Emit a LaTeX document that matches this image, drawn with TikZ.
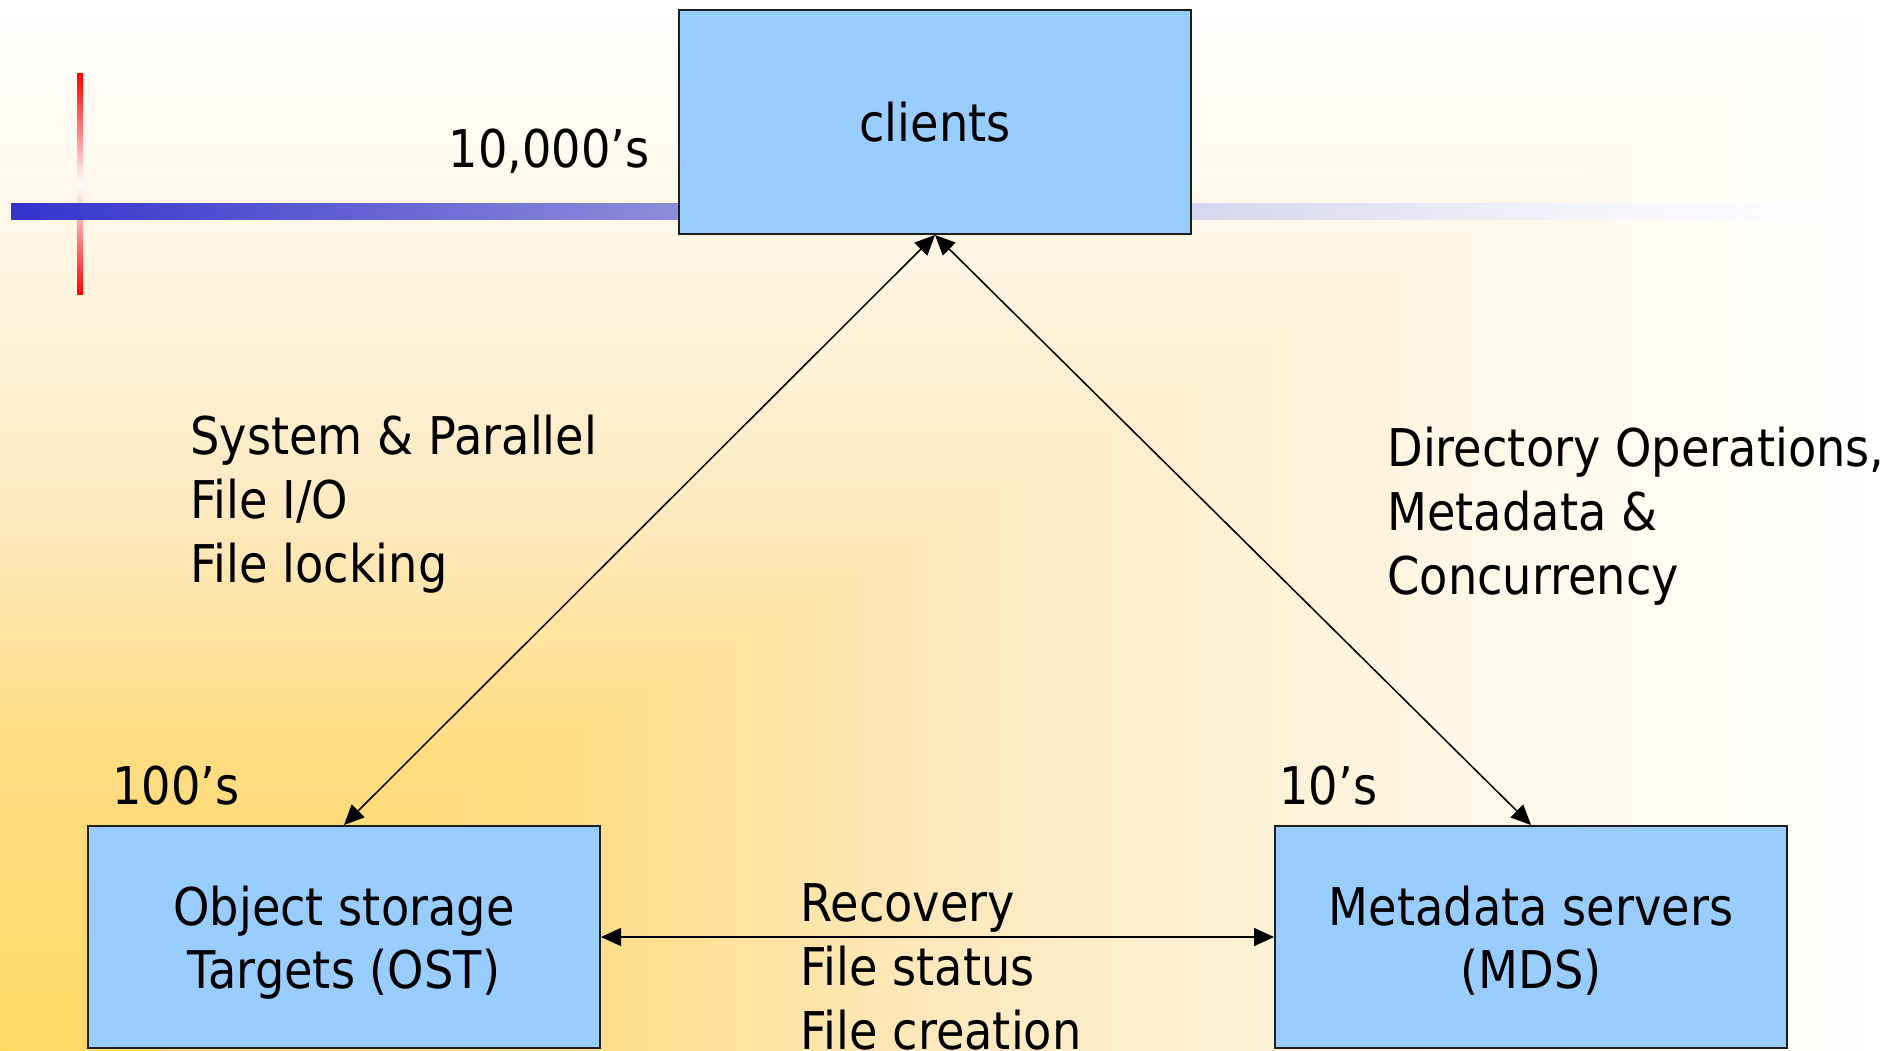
\documentclass[tikz,border=0pt]{standalone}
\usepackage{fontspec}
\setmainfont{DejaVu Sans}[FakeStretch=0.89]
\usetikzlibrary{arrows.meta}

\definecolor{boxblue}{RGB}{153,204,255}
\definecolor{boxline}{RGB}{30,30,30}
% background ramp, gold to white
\definecolor{bgA}{RGB}{255,216,100}
\definecolor{bgB}{RGB}{254,221,132}
\definecolor{bgC}{RGB}{254,233,190}
\definecolor{bgD}{RGB}{254,241,214}
\definecolor{bgE}{RGB}{255,250,240}
% blue rule ramp
\definecolor{barA}{RGB}{51,51,204}
\definecolor{barB}{RGB}{137,137,218}
\definecolor{barC}{RGB}{213,213,238}
\definecolor{barD}{RGB}{243,243,250}
% shading colours sit between 25bp and 75bp, the part fitted to the path
\pgfdeclarehorizontalshading{fadebar}{100bp}{color(0bp)=(barA); color(25bp)=(barA);
  color(42.2bp)=(barB); color(56.75bp)=(barC); color(67bp)=(barD);
  color(75bp)=(white); color(100bp)=(white)}
\pgfdeclarehorizontalshading{bgh}{100bp}{color(0bp)=(bgA); color(25bp)=(bgA);
  color(40bp)=(bgB); color(50bp)=(bgC); color(58bp)=(bgD); color(67.5bp)=(bgE);
  color(75bp)=(white); color(100bp)=(white)}
\pgfdeclareverticalshading{bgv}{100bp}{color(0bp)=(bgA); color(25bp)=(bgA);
  color(40bp)=(bgB); color(50bp)=(bgC); color(58bp)=(bgD); color(67.5bp)=(bgE);
  color(75bp)=(white); color(100bp)=(white)}

\begin{document}
\begin{tikzpicture}[x=0.5pt,y=0.5pt,
  every node/.style={font=\fontsize{26}{31.75}\selectfont, inner sep=0pt},
  unit/.style={draw=boxline, line width=1pt, fill=boxblue,
    minimum width=256pt, minimum height=111pt, align=center, text depth=0pt},
  link/.style={line width=0.75pt,
    {Triangle[length=10pt,width=9pt]}-{Triangle[length=10pt,width=9pt]}},
  lbl/.style={anchor=base west}]

\useasboundingbox (0,0) rectangle (1888,1050);

% background: gold in the lower left corner, fading to white towards
% the top and the right edge
\shade[shading=bgh] (0,0) rectangle (1888,1050);
\begin{scope}
  \clip (0,0) -- (0,1050) -- (1888,1050) -- cycle;
  \shade[shading=bgv] (0,0) rectangle (1888,1050);
\end{scope}

% red tick and blue rule
\shade[top color=red, bottom color=red, middle color=white] (77,755) rectangle (83,976);
\shade[shading=fadebar] (11,830) rectangle (1870,846);

% the three parties
\node[unit, minimum height=112pt] (clients) at (935,928) {clients};
\node[unit] (ost) at (344,113) {Object storage\\Targets (OST)};
\node[unit] (mds) at (1531,113) {Metadata servers\\(MDS)};

% counts
\node[anchor=base east] (nclients) at (650,882) {10,000’s};
\node[lbl] (nost) at (112,246) {100’s};
\node[lbl] (nmds) at (1279,246) {10’s};

% traffic between the parties
\draw[link] (clients.south) -- (ost.north);
\draw[link] (clients.south) -- (mds.north);
\draw[link] (ost.east) -- (mds.west);

\node[lbl] (io1) at (190,595) {System \& Parallel};
\node[lbl] (io2) at (190,531) {File I/O};
\node[lbl] (io3) at (190,467) {File locking};

\node[lbl] (md1) at (1387,583) {Directory Operations,};
\node[lbl] (md2) at (1387,519) {Metadata \&};
\node[lbl] (md3) at (1387,455) {Concurrency};

\node[lbl] (rc1) at (800,129) {Recovery};
\node[lbl] (rc2) at (800,65) {File status};
\node[lbl] (rc3) at (800,1) {File creation};
\end{tikzpicture}
\end{document}
